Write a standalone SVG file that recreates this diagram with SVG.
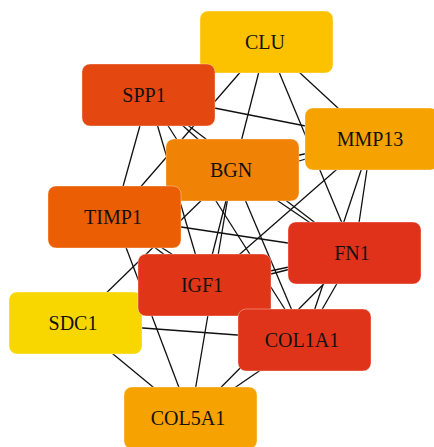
<svg xmlns="http://www.w3.org/2000/svg" width="434" height="447" viewBox="0 0 434 447">
<style>
.e{stroke:#111;stroke-width:1.3;fill:none}
.n rect{stroke:#fff;stroke-opacity:0.35;stroke-width:1}
.n text{font-family:"Liberation Serif","DejaVu Serif",serif;font-size:20px;fill:#111;text-anchor:middle}
</style>
<rect width="434" height="447" fill="#fff"/>
<g id="edges">
<line class="e" x1="266.5" y1="42" x2="371.5" y2="139"/>
<line class="e" x1="266.5" y1="42" x2="114.5" y2="217"/>
<line class="e" x1="266.5" y1="42" x2="354.5" y2="253"/>
<line class="e" x1="266.5" y1="42" x2="204.5" y2="285"/>
<line class="e" x1="148.5" y1="95" x2="371.5" y2="139"/>
<line class="e" x1="148.5" y1="95" x2="232.5" y2="170"/>
<line class="e" x1="148.5" y1="95" x2="114.5" y2="217"/>
<line class="e" x1="148.5" y1="95" x2="354.5" y2="253"/>
<line class="e" x1="148.5" y1="95" x2="204.5" y2="285"/>
<line class="e" x1="148.5" y1="95" x2="304.5" y2="340"/>
<line class="e" x1="371.5" y1="139" x2="232.5" y2="170"/>
<line class="e" x1="371.5" y1="139" x2="114.5" y2="217"/>
<line class="e" x1="371.5" y1="139" x2="354.5" y2="253"/>
<line class="e" x1="371.5" y1="139" x2="204.5" y2="285"/>
<line class="e" x1="371.5" y1="139" x2="304.5" y2="340"/>
<line class="e" x1="232.5" y1="170" x2="354.5" y2="253"/>
<line class="e" x1="232.5" y1="170" x2="75.5" y2="323"/>
<line class="e" x1="232.5" y1="170" x2="304.5" y2="340"/>
<line class="e" x1="232.5" y1="170" x2="190.5" y2="418"/>
<line class="e" x1="114.5" y1="217" x2="354.5" y2="253"/>
<line class="e" x1="114.5" y1="217" x2="204.5" y2="285"/>
<line class="e" x1="114.5" y1="217" x2="304.5" y2="340"/>
<line class="e" x1="114.5" y1="217" x2="190.5" y2="418"/>
<line class="e" x1="354.5" y1="253" x2="204.5" y2="285"/>
<line class="e" x1="354.5" y1="253" x2="75.5" y2="323"/>
<line class="e" x1="354.5" y1="253" x2="190.5" y2="418"/>
<line class="e" x1="354.5" y1="253" x2="304.5" y2="340"/>
<line class="e" x1="75.5" y1="323" x2="304.5" y2="340"/>
<line class="e" x1="75.5" y1="323" x2="190.5" y2="418"/>
<line class="e" x1="304.5" y1="340" x2="190.5" y2="418"/>
</g>
<g id="CLU" class="n"><rect x="200" y="11" width="133" height="62" rx="8" fill="#FCC200"/><text x="265" y="49">CLU</text></g>
<g id="SPP1" class="n"><rect x="82" y="64" width="133" height="62" rx="8" fill="#E4470F"/><text x="144" y="102">SPP1</text></g>
<g id="MMP13" class="n"><rect x="305" y="108" width="133" height="62" rx="8" fill="#F6A200"/><text x="370" y="146">MMP13</text></g>
<g id="BGN" class="n"><rect x="166" y="139" width="133" height="62" rx="8" fill="#F08206"/><text x="231" y="177">BGN</text></g>
<g id="TIMP1" class="n"><rect x="48" y="186" width="133" height="62" rx="8" fill="#EC5E04"/><text x="113" y="224">TIMP1</text></g>
<g id="FN1" class="n"><rect x="288" y="222" width="133" height="62" rx="8" fill="#E0321B"/><text x="352" y="260">FN1</text></g>
<g id="SDC1" class="n"><rect x="9" y="292" width="133" height="62" rx="8" fill="#F8D700"/><text x="73" y="330">SDC1</text></g>
<g id="IGF1" class="n"><rect x="138" y="254" width="133" height="62" rx="8" fill="#E03517"/><text x="202" y="292">IGF1</text></g>
<g id="COL1A1" class="n"><rect x="238" y="309" width="133" height="62" rx="8" fill="#E0341A"/><text x="302" y="347">COL1A1</text></g>
<g id="COL5A1" class="n"><rect x="124" y="387" width="133" height="62" rx="8" fill="#F6A200"/><text x="188" y="425">COL5A1</text></g>
</svg>
